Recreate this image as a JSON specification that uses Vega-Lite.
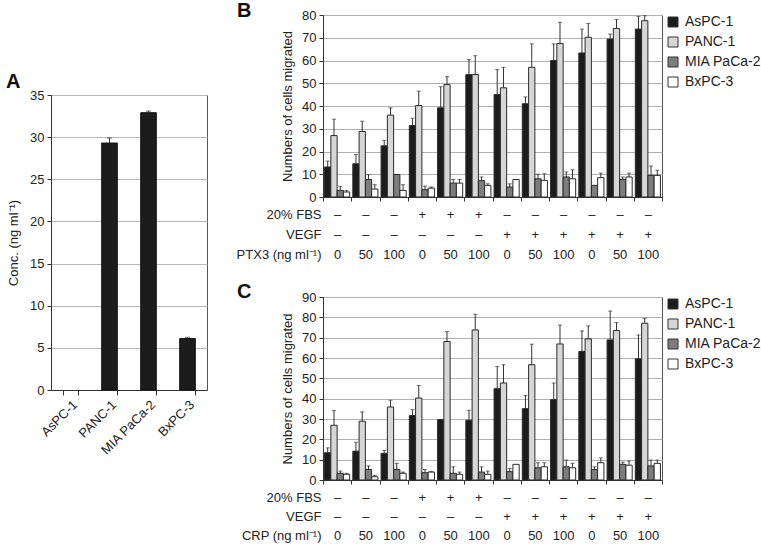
{
  "$schema": "https://vega.github.io/schema/vega-lite/v6.json",
  "padding": {"left": 5, "top": 0, "right": 0, "bottom": 0},
  "background": "white",
  "config": {
    "font": "Liberation Sans",
    "view": {"stroke": "#555", "strokeWidth": 1},
    "axis": {"labelFont": "Liberation Sans", "titleFont": "Liberation Sans", "labelColor": "#222", "titleColor": "#222", "domainColor": "#333", "tickColor": "#333", "gridColor": "#b0b0b0", "titleFontWeight": "normal", "labelFontSize": 13, "titleFontSize": 13},
    "legend": {"labelFont": "Liberation Sans", "labelFontSize": 14, "labelColor": "#222"},
    "title": {"font": "Liberation Sans", "fontSize": 20, "fontWeight": "bold", "color": "#111", "anchor": "start", "frame": "group", "baseline": "alphabetic", "offset": 0}
  },
  "datasets": {
    "a": [
      {"line": "AsPC-1", "v": 0, "e": 0},
      {"line": "PANC-1", "v": 29.3, "e": 29.9},
      {"line": "MIA PaCa-2", "v": 32.9, "e": 33.1},
      {"line": "BxPC-3", "v": 6.1, "e": 6.25}
    ],
    "b": [
      {"g": "01|–|–|0", "line": "AsPC-1", "v": 13.2, "e": 15.8},
      {"g": "01|–|–|0", "line": "PANC-1", "v": 27, "e": 34.2},
      {"g": "01|–|–|0", "line": "MIA PaCa-2", "v": 2.9, "e": 4.7},
      {"g": "01|–|–|0", "line": "BxPC-3", "v": 2.2, "e": 2.8},
      {"g": "02|–|–|50", "line": "AsPC-1", "v": 14.6, "e": 18.7},
      {"g": "02|–|–|50", "line": "PANC-1", "v": 28.8, "e": 33.3},
      {"g": "02|–|–|50", "line": "MIA PaCa-2", "v": 7.7, "e": 9.8},
      {"g": "02|–|–|50", "line": "BxPC-3", "v": 3.5, "e": 5.4},
      {"g": "03|–|–|100", "line": "AsPC-1", "v": 22.5, "e": 24.9},
      {"g": "03|–|–|100", "line": "PANC-1", "v": 36, "e": 39.2},
      {"g": "03|–|–|100", "line": "MIA PaCa-2", "v": 9.9, "e": 9.9},
      {"g": "03|–|–|100", "line": "BxPC-3", "v": 2.9, "e": 5.4},
      {"g": "04|+|–|0", "line": "AsPC-1", "v": 31.4, "e": 34.6},
      {"g": "04|+|–|0", "line": "PANC-1", "v": 40.2, "e": 46.5},
      {"g": "04|+|–|0", "line": "MIA PaCa-2", "v": 3.2, "e": 4.8},
      {"g": "04|+|–|0", "line": "BxPC-3", "v": 3.9, "e": 4.4},
      {"g": "05|+|–|50", "line": "AsPC-1", "v": 39.2, "e": 48.5},
      {"g": "05|+|–|50", "line": "PANC-1", "v": 49.4, "e": 52.9},
      {"g": "05|+|–|50", "line": "MIA PaCa-2", "v": 6.1, "e": 7.7},
      {"g": "05|+|–|50", "line": "BxPC-3", "v": 6.1, "e": 7.7},
      {"g": "06|+|–|100", "line": "AsPC-1", "v": 53.8, "e": 60.4},
      {"g": "06|+|–|100", "line": "PANC-1", "v": 53.8, "e": 62.1},
      {"g": "06|+|–|100", "line": "MIA PaCa-2", "v": 7.2, "e": 8.8},
      {"g": "06|+|–|100", "line": "BxPC-3", "v": 5.1, "e": 5.8},
      {"g": "07|–|+|0", "line": "AsPC-1", "v": 45, "e": 56},
      {"g": "07|–|+|0", "line": "PANC-1", "v": 48, "e": 57},
      {"g": "07|–|+|0", "line": "MIA PaCa-2", "v": 4.4, "e": 5.8},
      {"g": "07|–|+|0", "line": "BxPC-3", "v": 7.7, "e": 7.7},
      {"g": "08|–|+|50", "line": "AsPC-1", "v": 41, "e": 44},
      {"g": "08|–|+|50", "line": "PANC-1", "v": 57, "e": 67.3},
      {"g": "08|–|+|50", "line": "MIA PaCa-2", "v": 8, "e": 10},
      {"g": "08|–|+|50", "line": "BxPC-3", "v": 7.3, "e": 10.2},
      {"g": "09|–|+|100", "line": "AsPC-1", "v": 60, "e": 67.3},
      {"g": "09|–|+|100", "line": "PANC-1", "v": 67.5, "e": 76.8},
      {"g": "09|–|+|100", "line": "MIA PaCa-2", "v": 8.8, "e": 11},
      {"g": "09|–|+|100", "line": "BxPC-3", "v": 8, "e": 12},
      {"g": "10|–|+|0", "line": "AsPC-1", "v": 63.3, "e": 73.8},
      {"g": "10|–|+|0", "line": "PANC-1", "v": 70.2, "e": 76.3},
      {"g": "10|–|+|0", "line": "MIA PaCa-2", "v": 5.1, "e": 5.1},
      {"g": "10|–|+|0", "line": "BxPC-3", "v": 8.5, "e": 10.5},
      {"g": "11|–|+|50", "line": "AsPC-1", "v": 69.4, "e": 71.6},
      {"g": "11|–|+|50", "line": "PANC-1", "v": 74.1, "e": 78},
      {"g": "11|–|+|50", "line": "MIA PaCa-2", "v": 7.7, "e": 8.8},
      {"g": "11|–|+|50", "line": "BxPC-3", "v": 8.8, "e": 10.5},
      {"g": "12|–|+|100", "line": "AsPC-1", "v": 73.8, "e": 79.4},
      {"g": "12|–|+|100", "line": "PANC-1", "v": 77.5, "e": 79.7},
      {"g": "12|–|+|100", "line": "MIA PaCa-2", "v": 9.5, "e": 13.6},
      {"g": "12|–|+|100", "line": "BxPC-3", "v": 9.5, "e": 11.7}
    ],
    "c": [
      {"g": "01|–|–|0", "line": "AsPC-1", "v": 13.4, "e": 15.8},
      {"g": "01|–|–|0", "line": "PANC-1", "v": 26.9, "e": 34.1},
      {"g": "01|–|–|0", "line": "MIA PaCa-2", "v": 3.3, "e": 4.4},
      {"g": "01|–|–|0", "line": "BxPC-3", "v": 2.8, "e": 3.3},
      {"g": "02|–|–|50", "line": "AsPC-1", "v": 14.2, "e": 18.6},
      {"g": "02|–|–|50", "line": "PANC-1", "v": 28.9, "e": 33.5},
      {"g": "02|–|–|50", "line": "MIA PaCa-2", "v": 5.2, "e": 6.9},
      {"g": "02|–|–|50", "line": "BxPC-3", "v": 1.6, "e": 2.3},
      {"g": "03|–|–|100", "line": "AsPC-1", "v": 13.1, "e": 14.5},
      {"g": "03|–|–|100", "line": "PANC-1", "v": 35.9, "e": 39.2},
      {"g": "03|–|–|100", "line": "MIA PaCa-2", "v": 5.2, "e": 8.2},
      {"g": "03|–|–|100", "line": "BxPC-3", "v": 3.3, "e": 3.9},
      {"g": "04|+|–|0", "line": "AsPC-1", "v": 31.7, "e": 34.6},
      {"g": "04|+|–|0", "line": "PANC-1", "v": 40.3, "e": 46.5},
      {"g": "04|+|–|0", "line": "MIA PaCa-2", "v": 3.6, "e": 5.2},
      {"g": "04|+|–|0", "line": "BxPC-3", "v": 3.9, "e": 4.2},
      {"g": "05|+|–|50", "line": "AsPC-1", "v": 29.7, "e": 29.7},
      {"g": "05|+|–|50", "line": "PANC-1", "v": 68.1, "e": 73},
      {"g": "05|+|–|50", "line": "MIA PaCa-2", "v": 3.3, "e": 6.5},
      {"g": "05|+|–|50", "line": "BxPC-3", "v": 2.8, "e": 3.9},
      {"g": "06|+|–|100", "line": "AsPC-1", "v": 29.4, "e": 34.3},
      {"g": "06|+|–|100", "line": "PANC-1", "v": 73.8, "e": 81.5},
      {"g": "06|+|–|100", "line": "MIA PaCa-2", "v": 3.9, "e": 6.5},
      {"g": "06|+|–|100", "line": "BxPC-3", "v": 2.8, "e": 4.4},
      {"g": "07|–|+|0", "line": "AsPC-1", "v": 44.9, "e": 55.8},
      {"g": "07|–|+|0", "line": "PANC-1", "v": 47.7, "e": 56.7},
      {"g": "07|–|+|0", "line": "MIA PaCa-2", "v": 4.1, "e": 5.7},
      {"g": "07|–|+|0", "line": "BxPC-3", "v": 7.7, "e": 7.7},
      {"g": "08|–|+|50", "line": "AsPC-1", "v": 35.1, "e": 41.6},
      {"g": "08|–|+|50", "line": "PANC-1", "v": 56.7, "e": 66.8},
      {"g": "08|–|+|50", "line": "MIA PaCa-2", "v": 6, "e": 8.5},
      {"g": "08|–|+|50", "line": "BxPC-3", "v": 6.5, "e": 8.5},
      {"g": "09|–|+|100", "line": "AsPC-1", "v": 39.5, "e": 47.7},
      {"g": "09|–|+|100", "line": "PANC-1", "v": 66.9, "e": 76.2},
      {"g": "09|–|+|100", "line": "MIA PaCa-2", "v": 6.5, "e": 9.8},
      {"g": "09|–|+|100", "line": "BxPC-3", "v": 6, "e": 8.2},
      {"g": "10|–|+|0", "line": "AsPC-1", "v": 63.2, "e": 73.3},
      {"g": "10|–|+|0", "line": "PANC-1", "v": 69.4, "e": 75.8},
      {"g": "10|–|+|0", "line": "MIA PaCa-2", "v": 5.2, "e": 6.5},
      {"g": "10|–|+|0", "line": "BxPC-3", "v": 8.5, "e": 10.9},
      {"g": "11|–|+|50", "line": "AsPC-1", "v": 68.9, "e": 83.1},
      {"g": "11|–|+|50", "line": "PANC-1", "v": 73.5, "e": 77.4},
      {"g": "11|–|+|50", "line": "MIA PaCa-2", "v": 7.7, "e": 8.8},
      {"g": "11|–|+|50", "line": "BxPC-3", "v": 7.3, "e": 9.3},
      {"g": "12|–|+|100", "line": "AsPC-1", "v": 59.6, "e": 71.3},
      {"g": "12|–|+|100", "line": "PANC-1", "v": 77.1, "e": 79.5},
      {"g": "12|–|+|100", "line": "MIA PaCa-2", "v": 6.9, "e": 9.8},
      {"g": "12|–|+|100", "line": "BxPC-3", "v": 8.2, "e": 9.8}
    ]
  },
  "bounds": "flush",
  "spacing": 272,
  "hconcat": [
    {
      "bounds": "flush",
      "spacing": 79,
      "vconcat": [
        {"width": 156, "height": 1, "data": {"values": [{}]}, "mark": {"type": "point", "opacity": 0}, "view": {"stroke": null}},
        {
          "width": 156,
          "height": 295,
          "data": {"name": "a"},
          "title": {"text": "A", "dx": -45, "dy": 7},
          "encoding": {
            "x": {"field": "line", "type": "nominal", "scale": {"domain": ["AsPC-1", "PANC-1", "MIA PaCa-2", "BxPC-3"], "paddingInner": 0.6, "paddingOuter": 0.3},
              "axis": {"title": null, "labelAngle": -45, "tickBand": "extent", "tickSize": 5, "labelPadding": 3, "labelFontSize": 13, "grid": false}}
          },
          "layer": [
            {"transform": [{"filter": "datum.v > 0"}], "mark": {"type": "bar", "color": "#1c1c1c", "stroke": "#111", "strokeWidth": 1},
              "encoding": {"y": {"field": "v", "type": "quantitative", "scale": {"domain": [0, 35]},
                "axis": {"title": "Conc. (ng ml⁻¹)", "values": [0, 5, 10, 15, 20, 25, 30, 35], "labelOverlap": false, "tickSize": 4, "labelPadding": 3, "titlePadding": 9, "gridColor": "#b8b8b8"}}}},
            {"transform": [{"filter": "datum.e > datum.v"}], "mark": {"type": "rule", "color": "#333"},
              "encoding": {"y": {"field": "v", "type": "quantitative",
                "axis": {"title": "Conc. (ng ml⁻¹)", "values": [0, 5, 10, 15, 20, 25, 30, 35], "labelOverlap": false, "tickSize": 4, "labelPadding": 3, "titlePadding": 9, "gridColor": "#b8b8b8"}}, "y2": {"field": "e"}}},
            {"transform": [{"filter": "datum.e > datum.v"}], "mark": {"type": "tick", "color": "#333", "thickness": 1, "size": 5},
              "encoding": {"y": {"field": "e", "type": "quantitative",
                "axis": {"title": "Conc. (ng ml⁻¹)", "values": [0, 5, 10, 15, 20, 25, 30, 35], "labelOverlap": false, "tickSize": 4, "labelPadding": 3, "titlePadding": 9, "gridColor": "#b8b8b8"}}}}
          ]
        }
      ]
    },
    {
      "bounds": "flush",
      "spacing": 100,
      "resolve": {"scale": {"color": "independent", "x": "independent", "y": "independent"}, "legend": {"color": "independent"}},
      "vconcat": [
        {
          "width": 339,
          "height": 182,
          "data": {"name": "b"},
          "title": {"text": "B", "dx": -86, "dy": 16},
          "encoding": {
            "x": {"field": "g", "type": "nominal", "scale": {"paddingInner": 0, "paddingOuter": 0},
              "axis": {"labelExpr": "slice(split(datum.value,'|'),1)", "labelAngle": 0, "labelOverlap": false, "tickBand": "extent", "tickSize": 4, "labelPadding": 7, "labelLineHeight": 20, "labelBaseline": "top", "labelFontSize": 13,
                "title": ["20% FBS", "VEGF", "PTX3 (ng ml⁻¹)"], "titleX": -2, "titleY": 11, "titleAlign": "right", "titleBaseline": "top", "titleAngle": 0, "titleLineHeight": 20, "titleFontSize": 13}},
            "xOffset": {"field": "line", "type": "nominal", "sort": ["AsPC-1", "PANC-1", "MIA PaCa-2", "BxPC-3"], "scale": {"paddingInner": 0, "paddingOuter": 0.25}}
          },
          "layer": [
            {"mark": {"type": "bar", "stroke": "#2a2a2a", "strokeWidth": 1},
              "encoding": {
                "y": {"field": "v", "type": "quantitative", "scale": {"domain": [0, 80]},
                  "axis": {"title": "Numbers of cells migrated", "values": [0, 10, 20, 30, 40, 50, 60, 70, 80], "labelOverlap": false, "tickSize": 4, "labelPadding": 3, "titlePadding": 7}},
                "color": {"field": "line", "type": "nominal",
                "scale": {"domain": ["AsPC-1", "PANC-1", "MIA PaCa-2", "BxPC-3"], "range": ["#1c1c1c", "#d6d6d6", "#7d7d7d", "#ffffff"]},
                "legend": {"title": null, "orient": "right", "offset": 4, "padding": 0, "symbolType": "square", "symbolSize": 100, "symbolStrokeColor": "#333", "symbolStrokeWidth": 1, "rowPadding": 6, "labelOffset": 5, "labelFontSize": 14}}}},
            {"transform": [{"filter": "datum.e > datum.v"}], "mark": {"type": "rule", "color": "#333"},
              "encoding": {"y": {"field": "v", "type": "quantitative",
                "axis": {"title": "Numbers of cells migrated", "values": [0, 10, 20, 30, 40, 50, 60, 70, 80], "labelOverlap": false, "tickSize": 4, "labelPadding": 3, "titlePadding": 7}}, "y2": {"field": "e"}}},
            {"transform": [{"filter": "datum.e > datum.v"}], "mark": {"type": "tick", "color": "#333", "thickness": 1, "size": 4},
              "encoding": {"y": {"field": "e", "type": "quantitative",
                "axis": {"title": "Numbers of cells migrated", "values": [0, 10, 20, 30, 40, 50, 60, 70, 80], "labelOverlap": false, "tickSize": 4, "labelPadding": 3, "titlePadding": 7}}}}
          ]
        },
        {
          "width": 339,
          "height": 183,
          "data": {"name": "c"},
          "title": {"text": "C", "dx": -86, "dy": 15},
          "encoding": {
            "x": {"field": "g", "type": "nominal", "scale": {"paddingInner": 0, "paddingOuter": 0},
              "axis": {"labelExpr": "slice(split(datum.value,'|'),1)", "labelAngle": 0, "labelOverlap": false, "tickBand": "extent", "tickSize": 4, "labelPadding": 7, "labelLineHeight": 19, "labelBaseline": "top", "labelFontSize": 13,
                "title": ["20% FBS", "VEGF", "CRP (ng ml⁻¹)"], "titleX": -2, "titleY": 11, "titleAlign": "right", "titleBaseline": "top", "titleAngle": 0, "titleLineHeight": 19, "titleFontSize": 13}},
            "xOffset": {"field": "line", "type": "nominal", "sort": ["AsPC-1", "PANC-1", "MIA PaCa-2", "BxPC-3"], "scale": {"paddingInner": 0, "paddingOuter": 0.25}}
          },
          "layer": [
            {"mark": {"type": "bar", "stroke": "#2a2a2a", "strokeWidth": 1},
              "encoding": {
                "y": {"field": "v", "type": "quantitative", "scale": {"domain": [0, 90]},
                  "axis": {"title": "Numbers of cells migrated", "values": [0, 10, 20, 30, 40, 50, 60, 70, 80, 90], "labelOverlap": false, "tickSize": 4, "labelPadding": 3, "titlePadding": 7}},
                "color": {"field": "line", "type": "nominal",
                "scale": {"domain": ["AsPC-1", "PANC-1", "MIA PaCa-2", "BxPC-3"], "range": ["#1c1c1c", "#d6d6d6", "#7d7d7d", "#ffffff"]},
                "legend": {"title": null, "orient": "right", "offset": 4, "padding": 0, "symbolType": "square", "symbolSize": 100, "symbolStrokeColor": "#333", "symbolStrokeWidth": 1, "rowPadding": 6, "labelOffset": 5, "labelFontSize": 14}}}},
            {"transform": [{"filter": "datum.e > datum.v"}], "mark": {"type": "rule", "color": "#333"},
              "encoding": {"y": {"field": "v", "type": "quantitative",
                "axis": {"title": "Numbers of cells migrated", "values": [0, 10, 20, 30, 40, 50, 60, 70, 80, 90], "labelOverlap": false, "tickSize": 4, "labelPadding": 3, "titlePadding": 7}}, "y2": {"field": "e"}}},
            {"transform": [{"filter": "datum.e > datum.v"}], "mark": {"type": "tick", "color": "#333", "thickness": 1, "size": 4},
              "encoding": {"y": {"field": "e", "type": "quantitative",
                "axis": {"title": "Numbers of cells migrated", "values": [0, 10, 20, 30, 40, 50, 60, 70, 80, 90], "labelOverlap": false, "tickSize": 4, "labelPadding": 3, "titlePadding": 7}}}}
          ]
        }
      ]
    }
  ]
}
